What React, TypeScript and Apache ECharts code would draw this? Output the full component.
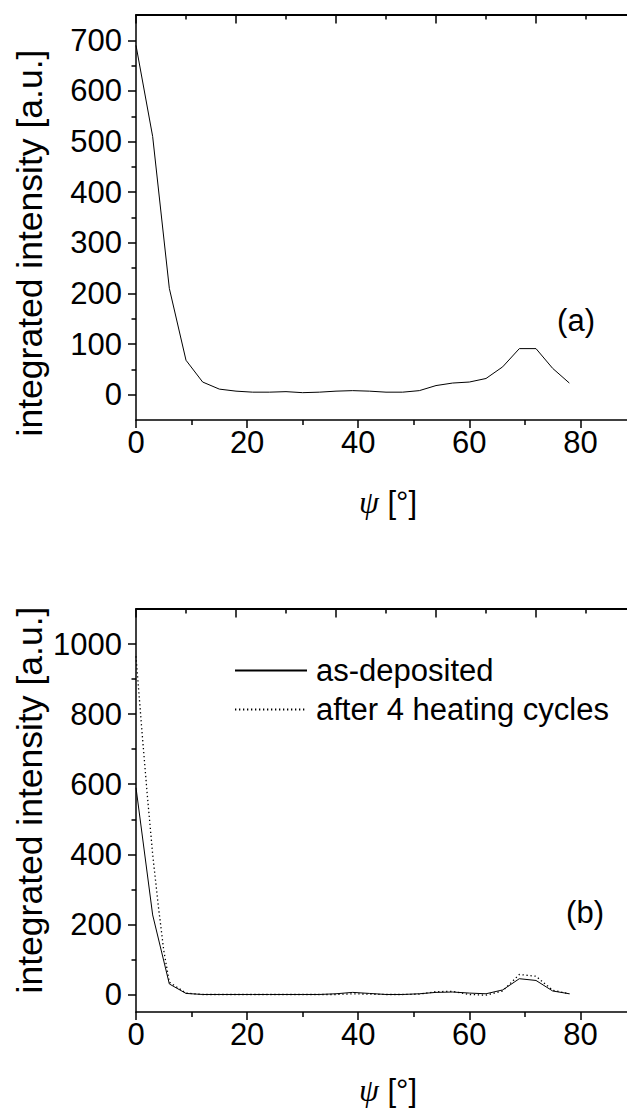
import React, { useEffect, useRef } from "react";
import * as echarts from "echarts";

// ---- data ----
const psiA = [0, 3, 6, 9, 12, 15, 18, 21, 24, 27, 30, 33, 36, 39, 42, 45, 48, 51, 54, 57, 60, 63, 66, 69, 72, 75, 78];
const intensityA = [690, 510, 210, 68, 25, 11, 7, 5, 5, 6, 4, 5, 7, 8, 7, 5, 5, 8, 18, 23, 25, 32, 55, 91, 91, 52, 23];

const psiAsDep = [0, 3, 6, 9, 12, 15, 18, 21, 24, 27, 30, 33, 36, 39, 42, 45, 48, 51, 54, 57, 60, 63, 66, 69, 72, 75, 78];
const intensityAsDep = [590, 227, 30, 3, 0, 0, 0, 0, 0, 0, 0, 0, 2, 6, 3, 0, 0, 2, 6, 7, 4, 2, 13, 45, 40, 10, 2];

const psiHeated = [0, 1, 2, 3, 4, 5, 6, 9, 12, 15, 18, 21, 24, 27, 30, 33, 36, 39, 42, 45, 48, 51, 54, 57, 60, 63, 66, 69, 72, 75, 78];
const intensityHeated = [965, 765, 575, 400, 255, 125, 35, 4, 0, 0, 0, 0, 0, 0, 0, 0, 0, 2, 1, 0, 0, 1, 8, 9, 0, -2, 10, 57, 52, 12, 2];

const yTicksA = [0, 100, 200, 300, 400, 500, 600, 700];
const yMinorA = [50, 150, 250, 350, 450, 550, 650];
const yTicksB = [0, 200, 400, 600, 800, 1000];
const yMinorB = [100, 300, 500, 700, 900];

const seriesNames = ["as-deposited", "after 4 heating cycles"];

const FONT = '"Liberation Sans", Arial, sans-serif';
const TICK_FS = 31;

const pairs = (xs: number[], ys: number[]) => xs.map((x, i) => [x, ys[i]]);

const axisLine = (width = 1.5) => ({ show: true, onZero: false, lineStyle: { color: "#000", width } });

function mainX(gridIndex: number) {
  return {
    type: "value",
    gridIndex,
    position: "bottom",
    min: 0,
    max: 90,
    interval: 20,
    axisLine: axisLine(),
    axisTick: { show: true, inside: false, length: 8, lineStyle: { color: "#000", width: 1.5 } },
    minorTick: { show: true, splitNumber: 2, length: 5, lineStyle: { color: "#000", width: 1.5 } },
    axisLabel: {
      show: true,
      margin: 7,
      color: "#000",
      fontSize: TICK_FS,
      fontFamily: FONT,
      showMaxLabel: false,
      formatter: (v: number) => String(v),
    },
    splitLine: { show: false },
  };
}

function topX(gridIndex: number) {
  return {
    type: "value",
    gridIndex,
    position: "top",
    min: 0,
    max: 10,
    interval: 2,
    axisLine: axisLine(2),
    axisTick: { show: true, inside: true, length: 8.5, lineStyle: { color: "#000", width: 1.5 } },
    minorTick: { show: true, splitNumber: 2, length: 4.5, lineStyle: { color: "#000", width: 1.5 } },
    axisLabel: { show: false },
    splitLine: { show: false },
  };
}

function mainY(gridIndex: number, min: number, max: number, ticks: number[]) {
  return {
    type: "value",
    gridIndex,
    position: "left",
    min,
    max,
    axisLine: axisLine(),
    axisTick: { show: true, inside: false, length: 8, customValues: ticks, lineStyle: { color: "#000", width: 1.5 } },
    axisLabel: {
      show: true,
      margin: 14,
      color: "#000",
      fontSize: TICK_FS,
      fontFamily: FONT,
      customValues: ticks,
      formatter: (v: number) => String(v),
    },
    splitLine: { show: false },
  };
}

function minorY(gridIndex: number, min: number, max: number, ticks: number[]) {
  return {
    type: "value",
    gridIndex,
    position: "left",
    min,
    max,
    axisLine: { show: false, onZero: false },
    axisTick: { show: true, inside: false, length: 4.5, customValues: ticks, lineStyle: { color: "#000", width: 1.5 } },
    axisLabel: { show: false },
    splitLine: { show: false },
  };
}

function textEl(text: string, x: number, y: number, extra: any = {}) {
  return {
    type: "text",
    x,
    y,
    ...extra,
    style: {
      text,
      fontSize: TICK_FS,
      fontFamily: FONT,
      fill: "#000",
      align: "center",
      verticalAlign: "middle",
      ...(extra.style || {}),
    },
  };
}

// empty helper series binding the decorative top / minor-tick axes
function helperSeries(xAxisIndex: number, yAxisIndex: number) {
  return {
    name: "helper" + xAxisIndex,
    type: "line",
    xAxisIndex,
    yAxisIndex,
    symbol: "none",
    silent: true,
    lineStyle: { opacity: 0 },
    data: [],
  };
}

export default function App() {
  const ref = useRef<HTMLDivElement>(null);
  useEffect(() => {
    if (!ref.current) return;
    const chart = echarts.init(ref.current, null, { renderer: "svg" });
    const psiLabelStyle = {
      text: "{p|ψ} [°]",
      rich: { p: { fontFamily: '"Liberation Serif", "DejaVu Serif", serif', fontStyle: "italic", fontSize: 32 } },
    };
    const gridBase = { show: false, containLabel: false, outerBoundsMode: "none" };
    chart.setOption({
      animation: false,
      backgroundColor: "#fff",
      grid: [
        { ...gridBase, left: 136, top: 15, width: 500, height: 405 },
        { ...gridBase, left: 136, top: 609, width: 500, height: 403 },
      ],
      xAxis: [mainX(0), topX(0), mainX(1), topX(1)],
      yAxis: [
        mainY(0, -50, 750, yTicksA),
        minorY(0, -50, 750, yMinorA),
        mainY(1, -50, 1100, yTicksB),
        minorY(1, -50, 1100, yMinorB),
      ],
      legend: {
        data: seriesNames,
        orient: "vertical",
        left: 234,
        top: 655,
        padding: 0,
        itemWidth: 72,
        itemHeight: 14,
        itemGap: 8,
        itemStyle: { color: "rgba(0,0,0,0)", borderColor: "rgba(0,0,0,0)", borderWidth: 0, opacity: 0 },
        textStyle: { fontSize: TICK_FS, fontFamily: FONT, color: "#000", padding: [0, 0, 0, 4] },
      },
      graphic: [
        textEl("integrated intensity [a.u.]", 30, 243, { rotation: Math.PI / 2, style: { fontSize: 35.5 } }),
        textEl("integrated intensity [a.u.]", 30, 800, { rotation: Math.PI / 2, style: { fontSize: 35.5 } }),
        textEl("", 388, 502, { style: psiLabelStyle }),
        textEl("", 388, 1090, { style: psiLabelStyle }),
        textEl("(a)", 576, 320),
        textEl("(b)", 585, 912),
      ],
      series: [
        {
          name: "sample (a)",
          type: "line",
          xAxisIndex: 0,
          yAxisIndex: 0,
          symbol: "none",
          lineStyle: { color: "#000", width: 1 },
          data: pairs(psiA, intensityA),
        },
        {
          name: seriesNames[0],
          type: "line",
          xAxisIndex: 2,
          yAxisIndex: 2,
          symbol: "none",
          itemStyle: { color: "#000" },
          lineStyle: { color: "#000", width: 1 },
          data: pairs(psiAsDep, intensityAsDep),
        },
        {
          name: seriesNames[1],
          type: "line",
          xAxisIndex: 2,
          yAxisIndex: 2,
          symbol: "none",
          itemStyle: { color: "#000" },
          lineStyle: { color: "#000", width: 1.3, type: [1.3, 2.7] },
          data: pairs(psiHeated, intensityHeated),
        },
        helperSeries(1, 1),
        helperSeries(3, 3),
      ],
    });
    return () => chart.dispose();
  }, []);
  return <div ref={ref} style={{ position: "absolute", left: 0, top: 0, width: 627, height: 1109 }} />;
}
